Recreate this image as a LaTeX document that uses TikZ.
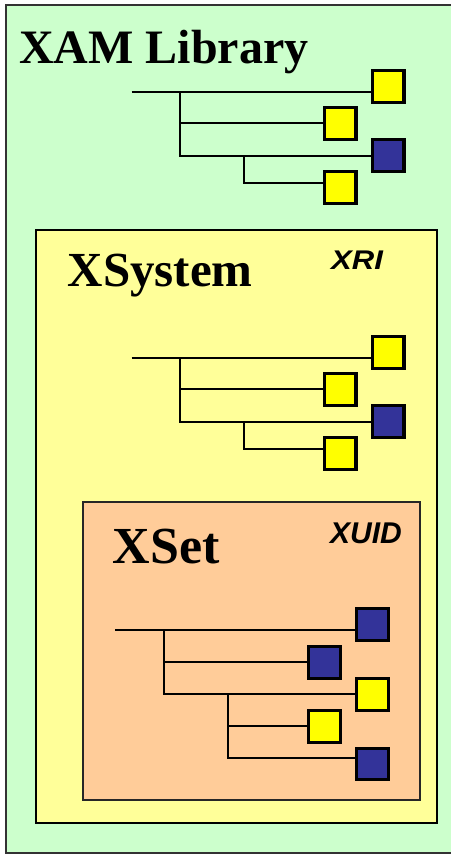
\documentclass[tikz,border=0pt]{standalone}
\usepackage{fontspec}
\setmainfont{Liberation Serif}
\newfontfamily\labelsans{Liberation Sans}
\definecolor{libgreen}{HTML}{CCFFCC}
\definecolor{sysyellow}{HTML}{FFFF99}
\definecolor{setorange}{HTML}{FFCC99}
\definecolor{leafyellow}{HTML}{FFFF00}
\definecolor{leafblue}{HTML}{333399}
\begin{document}
\begin{tikzpicture}[x=1pt,y=-1pt,
  leaf/.style={draw=black, line width=3.3pt, minimum size=31.5pt, inner sep=0pt, outer sep=0pt},
  yleaf/.style={leaf, fill=leafyellow},
  bleaf/.style={leaf, fill=leafblue},
  branch/.style={draw=black, line width=1.8pt},
  title/.style={anchor=base west, inner sep=0pt},
  idlabel/.style={anchor=base west, inner sep=0pt}]
\useasboundingbox (0,0) rectangle (450,856);

% nested containers
\draw[fill=libgreen, draw=black!80, line width=2pt] (6,5) rectangle (452,853);
\draw[fill=sysyellow, draw=black, line width=2.2pt] (36,230) rectangle (437,823);
\draw[fill=setorange, draw=black!85, line width=1.6pt] (83,502) rectangle (420,800);

% titles and identifier labels
\node[title, font=\fontsize{48}{48}\selectfont\bfseries] (libtitle) at (19,63.3) {XAM Library};
\node[title, font=\fontsize{49}{49}\selectfont\bfseries] (systitle) at (67.5,286.7) {XSystem};
\node[title, font=\fontsize{52}{52}\selectfont\bfseries] (settitle) at (112.5,563.3) {XSet};
\node[idlabel, font=\labelsans\fontsize{27}{27}\selectfont\bfseries\itshape, xscale=1.15] (xri) at (331,269.3) {XRI};
\node[idlabel, font=\labelsans\fontsize{30}{30}\selectfont\bfseries\itshape] (xuid) at (330,543.3) {XUID};

% tree in the library
\node[yleaf] (a1) at (388.3,86.5) {};
\node[yleaf] (a2) at (340.2,123.5) {};
\node[bleaf] (a3) at (388.3,155.5) {};
\node[yleaf] (a4) at (340.2,187.5) {};
\coordinate (ar) at (131.7,91.7);
\coordinate (at1) at (180,91.7);
\coordinate (am) at (180,123.3);
\coordinate (at2) at (180,155.7);
\coordinate (as1) at (244,155.7);
\coordinate (as2) at (244,182.7);
\draw[branch] (ar) -- (ar -| a1.west);
\draw[branch] (at1) -- (at2) -- (at2 -| a3.west);
\draw[branch] (am) -- (am -| a2.west);
\draw[branch] (as1) -- (as2) -- (as2 -| a4.west);

% tree in the system
\begin{scope}[yshift=-266pt]
\node[yleaf] (b1) at (388.3,86.5) {};
\node[yleaf] (b2) at (340.2,123.5) {};
\node[bleaf] (b3) at (388.3,155.5) {};
\node[yleaf] (b4) at (340.2,187.5) {};
\coordinate (br) at (131.7,91.7);
\coordinate (bt1) at (180,91.7);
\coordinate (bm) at (180,123.3);
\coordinate (bt2) at (180,155.7);
\coordinate (bs1) at (244,155.7);
\coordinate (bs2) at (244,182.7);
\draw[branch] (br) -- (br -| b1.west);
\draw[branch] (bt1) -- (bt2) -- (bt2 -| b3.west);
\draw[branch] (bm) -- (bm -| b2.west);
\draw[branch] (bs1) -- (bs2) -- (bs2 -| b4.west);
\end{scope}

% tree in the set
\node[bleaf] (c1) at (372.5,624.5) {};
\node[bleaf] (c2) at (324.5,662.5) {};
\node[yleaf] (c3) at (372.5,694.5) {};
\node[yleaf] (c4) at (324.5,726.5) {};
\node[bleaf] (c5) at (372.5,764) {};
\coordinate (cr) at (115,630);
\coordinate (ct1) at (164,630);
\coordinate (cm) at (164,662);
\coordinate (ct2) at (164,694);
\coordinate (cs1) at (228,694);
\coordinate (csm) at (228,726);
\coordinate (cs2) at (228,758);
\draw[branch] (cr) -- (cr -| c1.west);
\draw[branch] (ct1) -- (ct2) -- (ct2 -| c3.west);
\draw[branch] (cm) -- (cm -| c2.west);
\draw[branch] (cs1) -- (cs2) -- (cs2 -| c5.west);
\draw[branch] (csm) -- (csm -| c4.west);
\end{tikzpicture}
\end{document}
